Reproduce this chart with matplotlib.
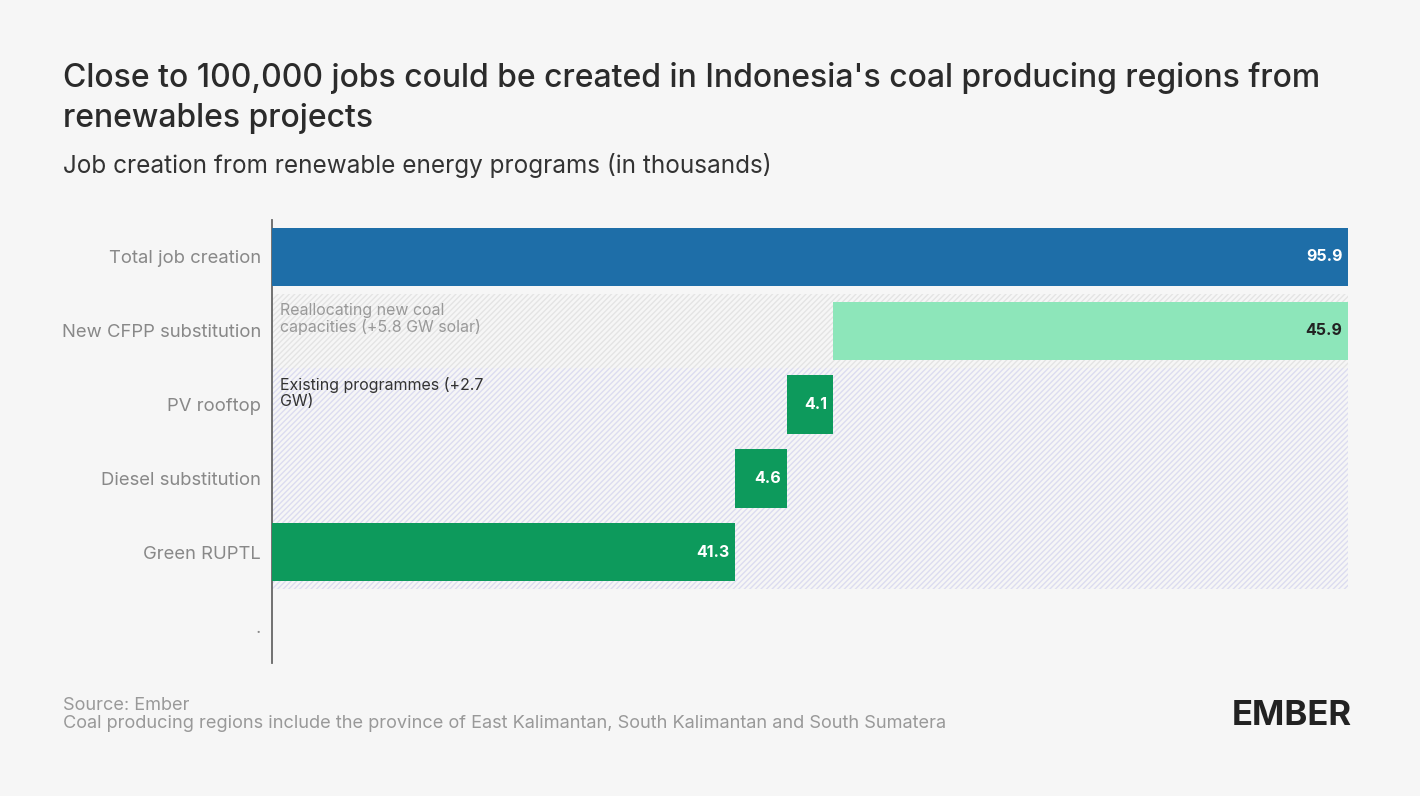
import matplotlib
matplotlib.use("Agg")
import matplotlib.pyplot as plt

categories = ["Total job creation", "New CFPP substitution", "PV rooftop", "Diesel substitution", "Green RUPTL", "."]
values = [95.9, 45.9, 4.1, 4.6, 41.3]
labels = ["95.9", "45.9", "4.1", "4.6", "41.3"]
colors = ["#1e6ea8", "#8de6ba", "#0d9a5c", "#0d9a5c", "#0d9a5c"]
label_colors = ["white", "#222222", "white", "white", "white"]

# waterfall starts (bottom-up accumulation)
starts = [0, 0, 0, 0, 0]
acc = 0.0
for i in [4, 3, 2, 1]:
    starts[i] = acc
    acc += values[i]

plt.rcParams["font.family"] = "Inter"
fig = plt.figure(figsize=(14.2, 7.96), dpi=100, facecolor="#f6f6f6")
ax = fig.add_axes([272/1420, 1-663/796, (1348-272)/1420, (663-220)/796])
ax.set_facecolor("#f6f6f6")
ax.set_xlim(0, 95.9)
ax.set_ylim(5.5, -0.5)

# hatched bands
ax.fill_between([0, 95.9], 0.5, 1.5, facecolor="none", hatch="//////", edgecolor="#e4e4e4", linewidth=0)
ax.fill_between([0, 95.9], 1.5, 4.5, facecolor="none", hatch="//////", edgecolor="#dcdcf0", linewidth=0)

ypos = list(range(len(values)))
ax.barh(ypos, values, left=starts, height=0.79, color=colors, zorder=3)
for y, s, v, lab, lc in zip(ypos, starts, values, labels, label_colors):
    ax.text(s + v - 0.5, y, lab, ha="right", va="center", color=lc, fontsize=11.5, fontweight="bold", zorder=4)

ax.text(0.7, 0.62, "Reallocating new coal\ncapacities (+5.8 GW solar)", ha="left", va="top", fontsize=11.5, color="#999999", linespacing=1.1)
ax.text(0.7, 1.62, "Existing programmes (+2.7\nGW)", ha="left", va="top", fontsize=11.5, color="#333333", linespacing=1.1)

ax.set_yticks(range(len(categories)))
ax.set_yticklabels(categories, fontsize=13.3, color="#888888")
ax.tick_params(axis="y", length=0, pad=8)
ax.set_xticks([])
for sp in ["top", "right", "bottom"]:
    ax.spines[sp].set_visible(False)
ax.spines["left"].set_color("#666666")
ax.spines["left"].set_linewidth(1.3)

fig.text(63/1420, 1-78/796, "Close to 100,000 jobs could be created in Indonesia's coal producing regions from",
         fontsize=23, fontweight="medium", color="#2b2b2b", va="center")
fig.text(63/1420, 1-118/796, "renewables projects",
         fontsize=23, fontweight="medium", color="#2b2b2b", va="center")
fig.text(63/1420, 1-166/796, "Job creation from renewable energy programs (in thousands)", fontsize=17.5, color="#333333", va="center")
fig.text(63/1420, 1-706/796, "Source: Ember", fontsize=13.1, color="#999999", va="center")
fig.text(63/1420, 1-723/796, "Coal producing regions include the province of East Kalimantan, South Kalimantan and South Sumatera",
         fontsize=13.1, color="#999999", va="center")
fig.text(1352/1420, 1-716/796, "EMBER", fontsize=25, fontweight="bold", color="#222222", ha="right", va="center")

fig.savefig("out.png", dpi=100, facecolor=fig.get_facecolor())
